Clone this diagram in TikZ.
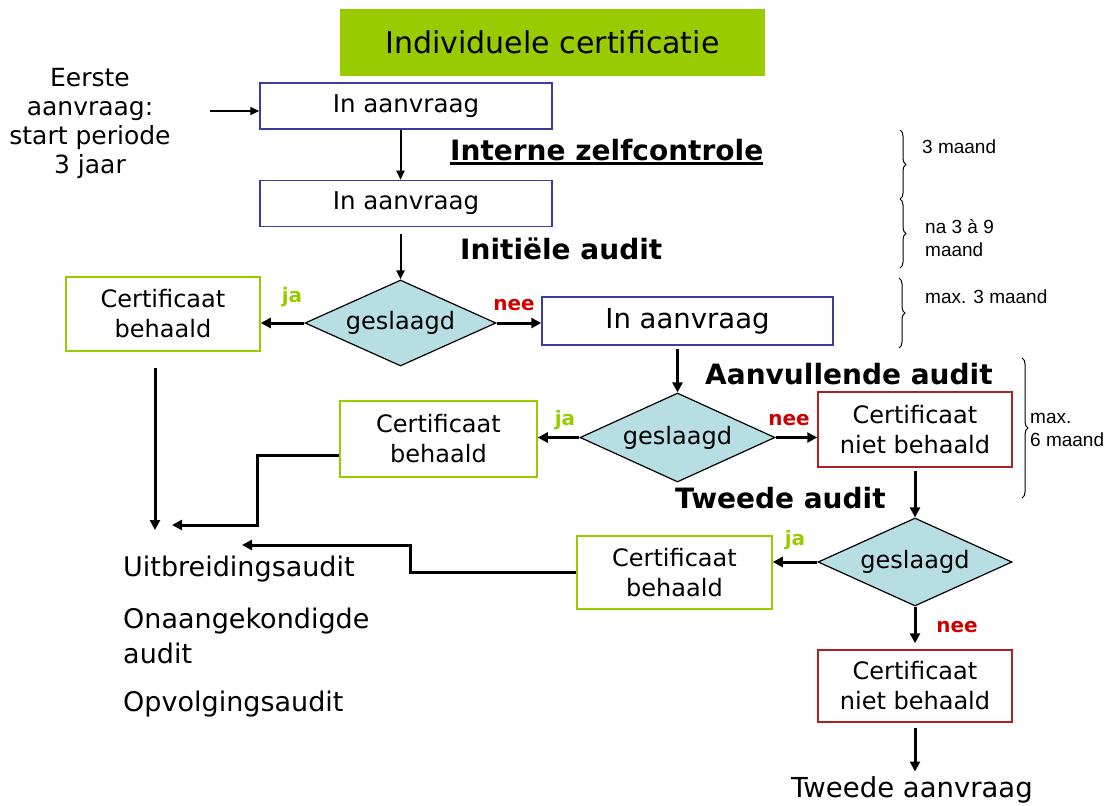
\documentclass[tikz,border=0pt]{standalone}
\usepackage{fontspec}
\setmainfont{DejaVu Sans}
\newfontfamily\bracefont{Liberation Sans}
\usetikzlibrary{arrows.meta,shapes.geometric,decorations.pathreplacing}
\definecolor{titlegreen}{RGB}{153,204,0}
\definecolor{boxblue}{RGB}{60,60,160}
\definecolor{boxred}{RGB}{170,34,34}
\definecolor{checkfill}{RGB}{183,222,226}
\definecolor{nored}{RGB}{204,0,0}
\newcommand\fsz[2]{\fontsize{#1}{#2}\selectfont}
\newcommand\thickul[1]{\setbox0\hbox{#1}\rlap{\rule[-4pt]{\wd0}{2.5pt}}\box0}
\tikzset{
  title/.style={fill=titlegreen, minimum width=425pt, minimum height=67pt, inner sep=0pt, font=\fsz{30}{36}},
  inbox/.style={draw=boxblue, line width=1.5pt, minimum width=292pt, minimum height=46pt, inner sep=0pt, font=\fsz{24.5}{29}},
  okbox/.style={draw=titlegreen, line width=1.5pt, align=center, inner sep=0pt, font=\fsz{24}{30}},
  failbox/.style={draw=boxred, line width=1.5pt, align=center, inner sep=0pt, font=\fsz{24}{30}},
  check/.style={diamond, draw, line width=1.2pt, fill=checkfill, inner sep=0pt, aspect=2.2, font=\fsz{24}{29}},
  stage/.style={anchor=west, inner sep=0pt, font=\bfseries\fsz{28}{32}},
  yeslabel/.style={inner sep=0pt, text=titlegreen, font=\bfseries\fsz{20}{24}},
  nolabel/.style={inner sep=0pt, text=nored, font=\bfseries\fsz{20}{24}},
  flow/.style={-{Triangle[length=10pt,width=10pt]}, line width=3pt},
  thinflow/.style={-{Triangle[length=9pt,width=8pt]}, line width=2pt},
  period/.style={decorate, decoration={brace, amplitude=6pt}, line width=1pt},
  note/.style={anchor=west, align=left, inner sep=0pt, font=\bracefont\fsz{19}{23}},
  plain/.style={anchor=west, align=left, inner sep=0pt, font=\fsz{27}{35}}
}
\begin{document}
\begin{tikzpicture}[x=1pt,y=-1pt]
  %%%%% START %%%%%
  \useasboundingbox (0,0) rectangle (1115,805);

  \node[title] (title) at (552.5,42.5) {Individuele certificatie};

  \node[align=center, inner sep=0pt, font=\fsz{25}{29}] (intro) at (90,123) {Eerste\\aanvraag:\\start periode\\3 jaar};
  \coordinate (introarrow) at (210,111);
  \node[inbox] (req1) at (406,106) {In aanvraag};
  \node[inbox] (req2) at (406,203.5) {In aanvraag};
  \node[stage] (zelf) at (450,152) {\thickul{Interne zelfcontrole}};
  \node[stage] (init) at (460,249) {Initiële audit};

  \node[check, minimum width=191pt, minimum height=86pt] (chk1) at (400.5,323) {geslaagd};
  \node[okbox, minimum width=194pt, minimum height=74pt] (cert1) at (163,314) {Certificaat\\behaald};
  \node[inbox, minimum width=291pt, minimum height=48pt, font=\fsz{27.5}{32}] (req3) at (687.5,321) {In aanvraag};
  \node[yeslabel] (ja1) at (292,297) {ja};
  \node[nolabel] (nee1) at (514,305) {nee};

  \node[stage] (aanv) at (705,374) {Aanvullende audit};
  \node[check, minimum width=195pt, minimum height=89pt] (chk2) at (677.5,437.5) {geslaagd};
  \node[okbox, minimum width=197pt, minimum height=76pt] (cert2) at (438.5,439) {Certificaat\\behaald};
  \node[failbox, minimum width=194pt, minimum height=75pt] (nogo1) at (915,429.5) {Certificaat\\niet behaald};
  \node[yeslabel] (ja2) at (565,420) {ja};
  \node[nolabel] (nee2) at (789,420) {nee};

  \node[stage] (tweede) at (675,498) {Tweede audit};
  \node[check, minimum width=194pt, minimum height=88pt] (chk3) at (915,562) {geslaagd};
  \node[okbox, minimum width=195pt, minimum height=73pt] (cert3) at (674.5,572.5) {Certificaat\\behaald};
  \node[failbox, minimum width=194pt, minimum height=72pt] (nogo2) at (915,686) {Certificaat\\niet behaald};
  \node[yeslabel] (ja3) at (795,540) {ja};
  \node[nolabel] (nee3) at (957,627) {nee};
  \node[inner sep=0pt, font=\fsz{27.5}{32}] (second) at (912,790) {Tweede aanvraag};

  \node[plain] (uitb) at (123,569) {Uitbreidingsaudit};
  \node[plain] (onaan) at (123,636) {Onaangekondigde\\audit};
  \node[plain] (opvolg) at (123,704) {Opvolgingsaudit};
  \coordinate (m1) at (155,530);
  \coordinate (m2) at (172,525);
  \coordinate (m3) at (242,545);

  % periods
  \draw[period] (900,130) -- (900,199);
  \draw[period] (900,199) -- (900,268);
  \draw[period] (899,278) -- (899,348);
  \draw[period] (1022,358) -- (1022,498);
  \node[note] (p1) at (922,147) {3 maand};
  \node[note] (p2) at (925,238) {na 3 à 9\\maand};
  \node[note] (p3) at (925,297) {max. 3 maand};
  \node[note] (p4) at (1030,430) {max.\\6 maand};

  % connectors
  \draw[thinflow] (introarrow) -- (introarrow -| req1.west);
  \draw[thinflow] (req1.south -| chk1.north) -- (req2.north -| chk1.north);
  \draw[thinflow, shorten <=7pt] (req2.south -| chk1.north) -- (chk1.north);
  \draw[flow] (chk1.west) -- (chk1.west -| cert1.east);
  \draw[flow] (chk1.east) -- (chk1.east -| req3.west);
  \draw[flow, shorten <=3pt] (req3.south -| chk2.north) -- (chk2.north);
  \draw[flow] (chk2.west) -- (chk2.west -| cert2.east);
  \draw[flow] (chk2.east) -- (chk2.east -| nogo1.west);
  \draw[flow, shorten <=3pt] (nogo1.south) -- (chk3.north);
  \draw[flow] (chk3.west) -- (chk3.west -| cert3.east);
  \draw[flow, shorten >=6pt] (chk3.south) -- (nogo2.north);
  \draw[flow, shorten <=5pt, shorten >=5pt] (nogo2.south) -- (nogo2.south |- second.north);
  \draw[flow, shorten <=16pt] (cert1.south -| m1) -- (m1);
  \draw[flow] ([yshift=-16pt]cert2.west) -- ++(-82,0) |- (m2);
  \draw[flow] (cert3.west) -- ++(-166,0) |- (m3);
  %%%%% END %%%%%
\end{tikzpicture}
\end{document}
